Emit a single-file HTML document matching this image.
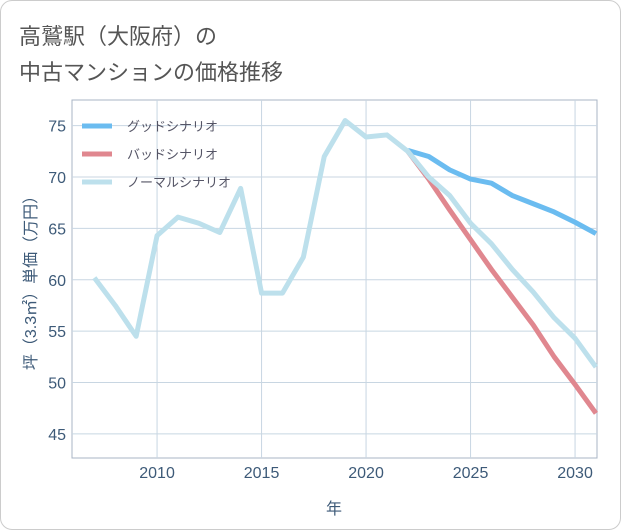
<!DOCTYPE html>
<html><head><meta charset="utf-8"><style>
body{margin:0;background:#fff;}
#card{position:absolute;left:0;top:0;width:619px;height:528px;border:1px solid #ccc;border-radius:12px;background:#fff;font-family:"Liberation Sans","Noto Sans CJK JP",sans-serif;}
.t{position:absolute;left:18px;font-size:22px;color:#555;}
</style></head><body>
<div id="card">
<div class="t" style="top:18px">高鷲駅（大阪府）の</div>
<div class="t" style="top:54px">中古マンションの価格推移</div>
<svg id="chart" width="621" height="530" style="position:absolute;left:-1px;top:-1px"></svg>
</div>
<script>
const years=[2007,2008,2009,2010,2011,2012,2013,2014,2015,2016,2017,2018,2019,2020,2021,2022,2023,2024,2025,2026,2027,2028,2029,2030,2031];
const normalVals=[60.2,57.5,54.5,64.3,66.1,65.5,64.6,68.9,58.7,58.7,62.2,72.0,75.5,73.9,74.1,72.5,70.0,68.2,65.5,63.5,61.0,58.8,56.3,54.3,51.5];
const futureYears=[2022,2023,2024,2025,2026,2027,2028,2029,2030,2031];
const goodVals=[72.6,72.0,70.7,69.8,69.4,68.2,67.4,66.6,65.6,64.5];
const badVals=[72.5,69.8,66.8,63.9,61.0,58.3,55.6,52.5,49.8,47.0];
const xTicks=[2010,2015,2020,2025,2030];
const yTicks=[45,50,55,60,65,70,75];
const L=72,R=597,T=100,B=458;
const x=v=>L+(v-2005.93)*(R-L)/(2031.05-2005.93);
const y=v=>T+(77.5-v)*(B-T)/(77.5-42.65);
const svg=document.getElementById('chart');
const NS='http://www.w3.org/2000/svg';
function mk(tag,attrs,parent){const e=document.createElementNS(NS,tag);for(const k in attrs)e.setAttribute(k,attrs[k]);(parent||svg).appendChild(e);return e;}
const frame=mk('rect',{x:L,y:T,width:R-L,height:B-T,fill:'none',stroke:'#a8b4c4','stroke-width':1});


xTicks.forEach(t=>{
 const g=mk('line',{x1:x(t),x2:x(t),y1:T,y2:B,stroke:'#c8d6e2','stroke-width':1});
 
 
 const tx=mk('text',{x:x(t),y:B+20,'text-anchor':'middle','font-size':16,fill:'#3d5a78'});
 tx.textContent=t;
 
 
});
yTicks.forEach(t=>{
 const g=mk('line',{x1:L,x2:R,y1:y(t),y2:y(t),stroke:'#c8d6e2','stroke-width':1});
 
 
 const tx=mk('text',{x:L-6,y:y(t)+6,'text-anchor':'end','font-size':16,fill:'#3d5a78'});
 tx.textContent=t;
 
 
});
function line(xs,vs,color,name){
 const p=mk('polyline',{points:xs.map((v,i)=>x(v)+','+y(vs[i])).join(' '),fill:'none',stroke:color,'stroke-width':5,'stroke-linejoin':'round'});
 
 
}
line(futureYears,goodVals,'#6bbcf0','good-scenario-line');
line(futureYears,badVals,'#e0878f','bad-scenario-line');
line(years,normalVals,'#bde0ec','normal-scenario-line');
const leg=[['グッドシナリオ','#6bbcf0'],['バッドシナリオ','#e0878f'],['ノーマルシナリオ','#bde0ec']];
leg.forEach((l,i)=>{
 const yy=126+i*28;
 const s=mk('line',{x1:82,x2:112,y1:yy,y2:yy,stroke:l[1],'stroke-width':5});
 
 
 const tx=mk('text',{x:127,y:yy+5,'font-size':13,fill:'#556'});
 tx.textContent=l[0];
 
 
});
const xt=mk('text',{x:334,y:514,'text-anchor':'middle','font-size':16,fill:'#3d5a78'});
xt.textContent='年';


const yt=mk('text',{x:0,y:0,'text-anchor':'middle','font-size':16,fill:'#3d5a78',transform:'translate(36,'+((T+B)/2)+') rotate(-90)'});
yt.textContent='坪（3.3㎡）単価（万円）';


</script>
</body></html>
